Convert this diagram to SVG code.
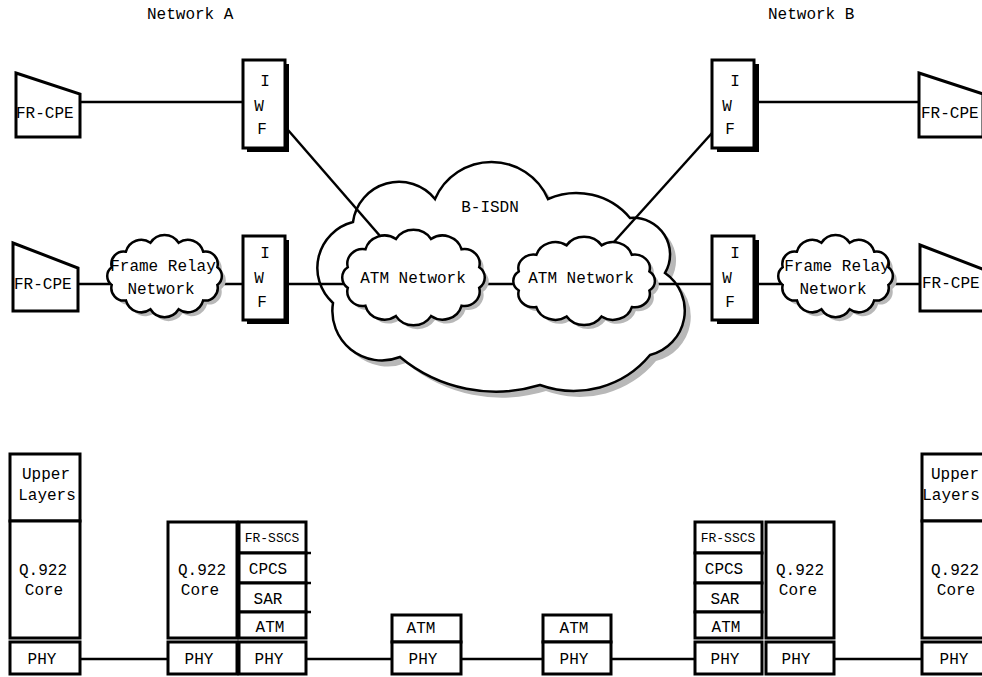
<svg xmlns="http://www.w3.org/2000/svg" xmlns:xlink="http://www.w3.org/1999/xlink" width="982" height="677" viewBox="0 0 982 677">
<style>
text{font-family:"Liberation Mono","Courier New",monospace;font-size:16px;fill:#000}
.m{text-anchor:middle}
.s{font-size:13px}
.box{fill:#fff;stroke:#000;stroke-width:3}
.conn line,.conn polyline{stroke:#000;stroke-width:2.5;fill:none}
.cl{fill:#fff;stroke:#000;stroke-width:2.5}
.sh{fill:#b8b8b8;stroke:none}
.cpe{fill:#fff;stroke:#000;stroke-width:3;stroke-linejoin:miter}
</style>
<defs>
<path id="smallCloud" vector-effect="non-scaling-stroke" d="M129.9,54.8 A14,14 0 0 1 113.8,71.9 A18,18 0 0 1 86,81.7 A19,19 0 0 1 54,81.7 A18,18 0 0 1 26.2,71.9 A14,14 0 0 1 10.1,54.8 A12,12 0 0 1 10.1,35.2 A14,14 0 0 1 26.2,18.1 A18,18 0 0 1 54,8.3 A19,19 0 0 1 86,8.3 A18,18 0 0 1 113.8,18.1 A14,14 0 0 1 129.9,35.2 A12,12 0 0 1 129.9,54.8 Z"/>
<path id="bigCloud" d="M353,222 A46.4,46.4 0 0 1 435,199 A61.6,61.6 0 0 1 548,199 A70,70 0 0 1 630,218 A36.6,36.6 0 0 1 665,273 A45.7,45.7 0 0 1 650,355 A99,99 0 0 1 540,385 A150,150 0 0 1 400,357 A49.5,49.5 0 0 1 333,303 A47.3,47.3 0 0 1 353,222 Z"/>
</defs>
<rect width="982" height="677" fill="#fff"/>

<g id="titles">
<text x="147" y="19">Network A</text>
<text x="768" y="19">Network B</text>
</g>

<g id="bisdn">
<use xlink:href="#bigCloud" class="sh" transform="translate(6,6)"/>
<use xlink:href="#bigCloud" class="cl"/>
<text class="m" x="490" y="212">B-ISDN</text>
</g>

<g class="conn" id="connectors">
<line x1="80" y1="102" x2="243" y2="102"/>
<line x1="288" y1="130" x2="387" y2="244"/>
<line x1="757" y1="102" x2="919" y2="102"/>
<line x1="613" y1="243" x2="712" y2="133"/>
<line x1="78" y1="284" x2="110" y2="284"/>
<line x1="220" y1="284" x2="243" y2="284"/>
<line x1="288" y1="284" x2="712" y2="284"/>
<line x1="758" y1="284" x2="781" y2="284"/>
<line x1="890" y1="284" x2="920" y2="284"/>
<line x1="80" y1="659" x2="168" y2="659"/>
<line x1="306" y1="659" x2="392" y2="659"/>
<line x1="461" y1="659" x2="543" y2="659"/>
<line x1="611" y1="659" x2="695" y2="659"/>
<line x1="834" y1="659" x2="922" y2="659"/>
</g>

<g id="atm1">
<use xlink:href="#smallCloud" class="sh" transform="translate(340.7,234.3) scale(1.097,1.05)"/>
<use xlink:href="#smallCloud" class="cl" transform="translate(336.7,230.3) scale(1.097,1.05)"/>
<text class="m" x="413" y="283">ATM Network</text>
</g>
<g id="atm2">
<use xlink:href="#smallCloud" class="sh" transform="translate(511.8,241.3) scale(1.09,0.97)"/>
<use xlink:href="#smallCloud" class="cl" transform="translate(507.8,237.3) scale(1.09,0.97)"/>
<text class="m" x="581" y="283">ATM Network</text>
</g>
<g id="fr1">
<use xlink:href="#smallCloud" class="sh" transform="translate(106.8,239.3) scale(0.882,0.905)"/>
<use xlink:href="#smallCloud" class="cl" transform="translate(102.8,235.3) scale(0.882,0.905)"/>
<text class="m" x="163" y="271">Frame Relay</text>
<text class="m" x="161" y="294">Network</text>
</g>
<g id="fr2">
<use xlink:href="#smallCloud" class="sh" transform="translate(777.8,239.3) scale(0.882,0.905)"/>
<use xlink:href="#smallCloud" class="cl" transform="translate(773.8,235.3) scale(0.882,0.905)"/>
<text class="m" x="837" y="271">Frame Relay</text>
<text class="m" x="833" y="294">Network</text>
</g>

<g id="cpe1">
<polygon class="cpe" points="16,73 80,94 80,137 16,137"/>
<text x="16" y="118">FR-CPE</text>
</g>
<g id="cpe2">
<polygon class="cpe" points="13,243 78,268 78,311 13,311"/>
<text x="14" y="289">FR-CPE</text>
</g>
<g id="cpe3">
<polygon class="cpe" points="919,73 983,94 983,137 919,137"/>
<text x="921" y="118">FR-CPE</text>
</g>
<g id="cpe4">
<polygon class="cpe" points="920,245 985,270 985,311 920,311"/>
<text x="922" y="288">FR-CPE</text>
</g>

<g id="iwf1">
<rect x="247" y="64" width="42" height="88" fill="#000"/>
<rect class="box" x="243" y="60" width="42" height="88"/>
<text class="m" x="265" y="86">I</text>
<text class="m" x="259" y="111">W</text>
<text class="m" x="262" y="134">F</text>
</g>
<g id="iwf2">
<rect x="247" y="240" width="42" height="84" fill="#000"/>
<rect class="box" x="243" y="236" width="42" height="84"/>
<text class="m" x="265" y="258">I</text>
<text class="m" x="259" y="283">W</text>
<text class="m" x="262" y="307">F</text>
</g>
<g id="iwf3">
<rect x="717" y="64" width="42" height="88" fill="#000"/>
<rect class="box" x="712" y="60" width="42" height="88"/>
<text class="m" x="735" y="86">I</text>
<text class="m" x="727" y="111">W</text>
<text class="m" x="730" y="134">F</text>
</g>
<g id="iwf4">
<rect x="717" y="240" width="42" height="84" fill="#000"/>
<rect class="box" x="712" y="236" width="42" height="84"/>
<text class="m" x="735" y="258">I</text>
<text class="m" x="727" y="283">W</text>
<text class="m" x="730" y="307">F</text>
</g>

<g id="stack1">
<rect class="box" x="10" y="454" width="70" height="67"/>
<rect class="box" x="10" y="521" width="70" height="117"/>
<rect class="box" x="10" y="642" width="70" height="32"/>
<text class="m" x="46" y="479">Upper</text>
<text class="m" x="47" y="500">Layers</text>
<text class="m" x="43" y="575">Q.922</text>
<text class="m" x="44" y="595">Core</text>
<text class="m" x="42" y="664">PHY</text>
</g>

<g id="stack2">
<rect class="box" x="168" y="522" width="69" height="116"/>
<rect class="box" x="168" y="642" width="69" height="32"/>
<rect class="box" x="239" y="522" width="67" height="31"/>
<rect class="box" x="239" y="553" width="67" height="30"/>
<rect class="box" x="239" y="583" width="67" height="29"/>
<rect class="box" x="239" y="612" width="67" height="26"/>
<rect class="box" x="239" y="642" width="67" height="32"/>
<line x1="306" y1="553" x2="311" y2="553" stroke="#000" stroke-width="2.5"/>
<line x1="306" y1="583" x2="311" y2="583" stroke="#000" stroke-width="2.5"/>
<line x1="306" y1="612" x2="311" y2="612" stroke="#000" stroke-width="2.5"/>
<text class="m" x="202" y="575">Q.922</text>
<text class="m" x="200" y="595">Core</text>
<text class="m" x="199" y="664">PHY</text>
<text class="m s" x="272" y="542">FR-SSCS</text>
<text class="m" x="268" y="574">CPCS</text>
<text class="m" x="268" y="604">SAR</text>
<text class="m" x="270" y="632">ATM</text>
<text class="m" x="269" y="664">PHY</text>
</g>

<g id="switch1">
<rect class="box" x="392" y="615" width="69" height="27"/>
<rect class="box" x="392" y="642" width="69" height="32"/>
<text class="m" x="421" y="633">ATM</text>
<text class="m" x="423" y="664">PHY</text>
</g>
<g id="switch2">
<rect class="box" x="543" y="615" width="68" height="27"/>
<rect class="box" x="543" y="642" width="68" height="32"/>
<text class="m" x="574" y="633">ATM</text>
<text class="m" x="574" y="664">PHY</text>
</g>

<g id="stack3">
<rect class="box" x="695" y="522" width="67" height="31"/>
<rect class="box" x="695" y="553" width="67" height="30"/>
<rect class="box" x="695" y="583" width="67" height="29"/>
<rect class="box" x="695" y="612" width="67" height="26"/>
<rect class="box" x="695" y="642" width="67" height="32"/>
<rect class="box" x="766" y="522" width="68" height="116"/>
<rect class="box" x="766" y="642" width="68" height="32"/>
<text class="m s" x="728" y="542">FR-SSCS</text>
<text class="m" x="724" y="574">CPCS</text>
<text class="m" x="725" y="604">SAR</text>
<text class="m" x="726" y="632">ATM</text>
<text class="m" x="725" y="664">PHY</text>
<text class="m" x="800" y="575">Q.922</text>
<text class="m" x="798" y="595">Core</text>
<text class="m" x="796" y="664">PHY</text>
</g>

<g id="stack4">
<rect class="box" x="922" y="454" width="70" height="67"/>
<rect class="box" x="922" y="521" width="70" height="117"/>
<rect class="box" x="922" y="642" width="70" height="32"/>
<text class="m" x="955" y="479">Upper</text>
<text class="m" x="951" y="500">Layers</text>
<text class="m" x="955" y="575">Q.922</text>
<text class="m" x="956" y="595">Core</text>
<text class="m" x="954" y="664">PHY</text>
</g>
</svg>
